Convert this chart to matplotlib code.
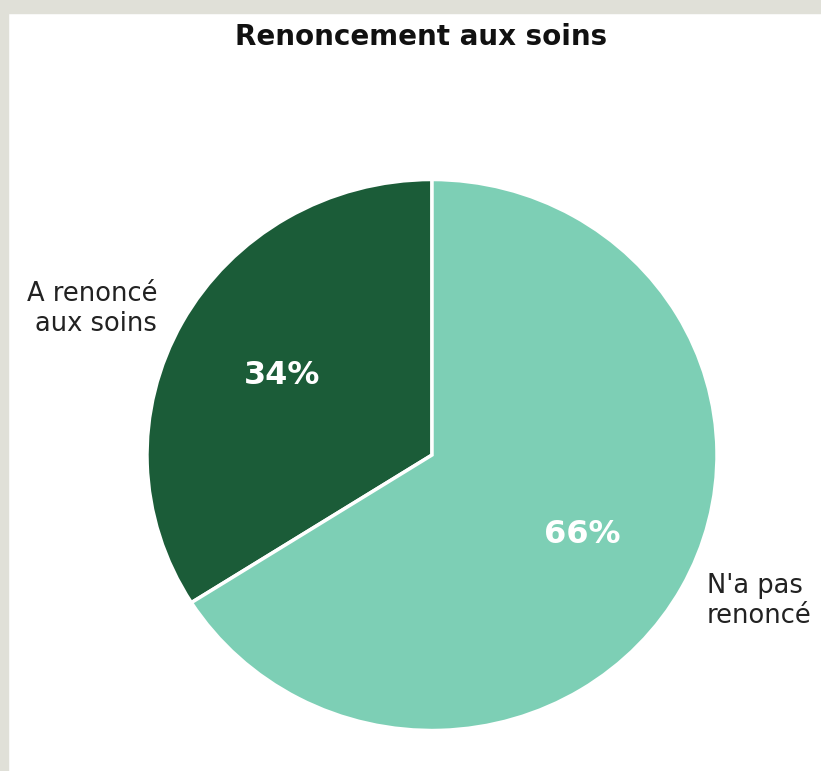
import matplotlib
matplotlib.use("Agg")
import matplotlib.pyplot as plt
from matplotlib.patches import Rectangle

labels = ["A renoncé\naux soins", "N'a pas\nrenoncé"]
values = [34, 66]
colors = ["#1b5c38", "#7dcfb5"]
title = "Renoncement aux soins"

W, H = 821, 771
fig = plt.figure(figsize=(W / 100, H / 100), dpi=100)
fig.patch.set_facecolor("white")
# screenshot border
fig.patches.append(Rectangle((0, 0), 8 / W, 1, transform=fig.transFigure, color="#e0e0d8", zorder=0))
fig.patches.append(Rectangle((0, 1 - 13 / H), 1, 13 / H, transform=fig.transFigure, color="#e0e0d8", zorder=0))

cx, cy, rx, ry = 432, 455, 285, 275.5
aw, ah = 600, 580
ax = fig.add_axes([(cx - aw / 2) / W, (H - cy - ah / 2) / H, aw / W, ah / H])
wedges, texts, autotexts = ax.pie(
    values, labels=labels, colors=colors, startangle=90, counterclock=True,
    autopct="%1.0f%%", pctdistance=0.6, labeldistance=1.1,
    wedgeprops=dict(edgecolor="white", linewidth=2.5),
    textprops=dict(fontsize=18.5, color="#222222"),
)
for t in autotexts:
    t.set_color("white")
    t.set_fontweight("bold")
    t.set_fontsize(23)
ax.set_aspect("auto")
ax.set_xlim(-aw / 2 / rx, aw / 2 / rx)
ax.set_ylim(-ah / 2 / ry, ah / 2 / ry)
ax.axis("off")

fig.text(421 / W, 1 - 37 / H, title, ha="center", va="center", fontsize=20, fontweight="bold", color="#111111")

fig.savefig("out.png", dpi=100)
